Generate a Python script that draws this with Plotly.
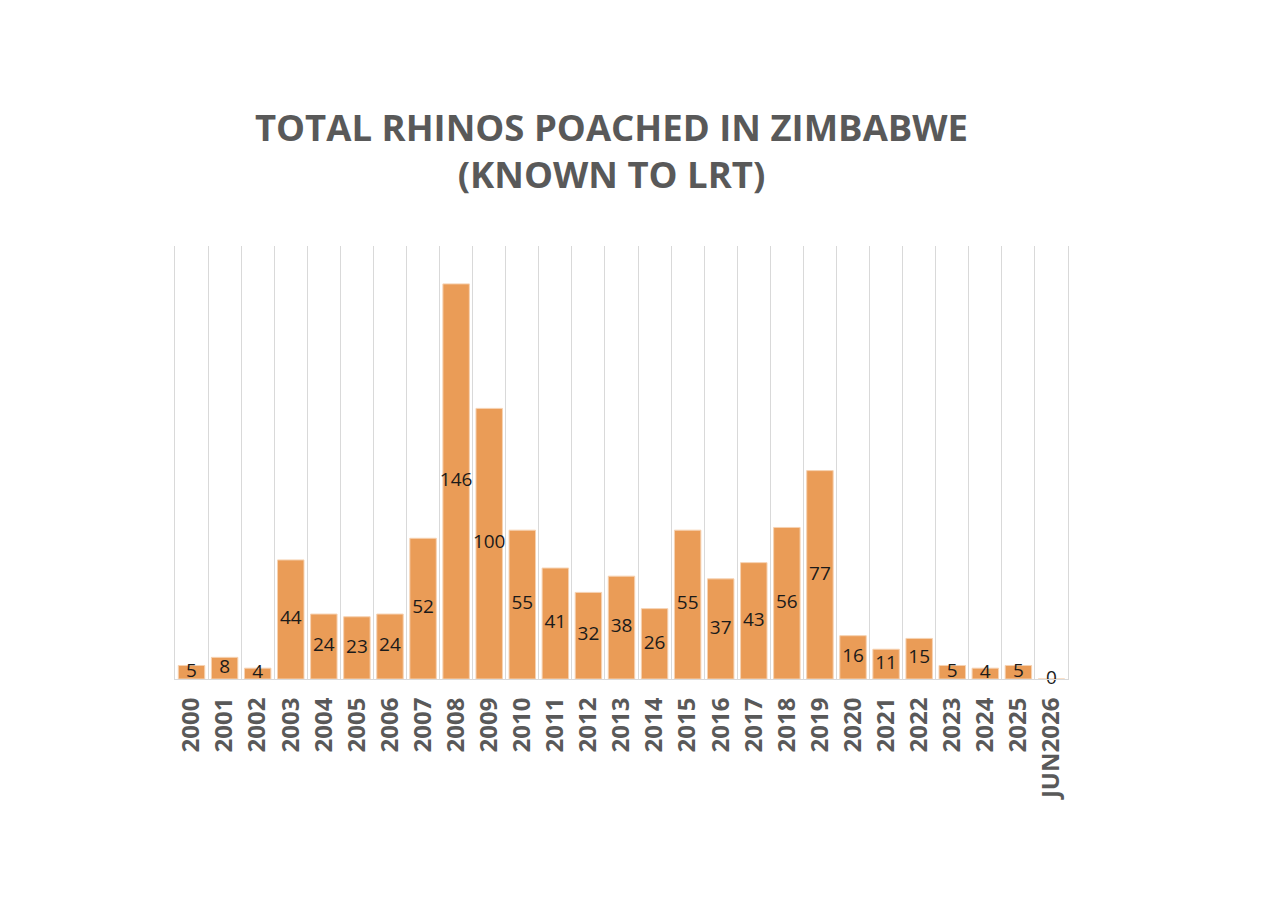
import plotly.graph_objects as go

years = ['2000', '2001', '2002', '2003', '2004', '2005', '2006', '2007', '2008',
         '2009', '2010', '2011', '2012', '2013', '2014', '2015', '2016', '2017',
         '2018', '2019', '2020', '2021', '2022', '2023', '2024', '2025', 'JUN2026']
poached = [5, 8, 4, 44, 24, 23, 24, 52, 146, 100, 55, 41, 32, 38, 26, 55, 37, 43,
           56, 77, 16, 11, 15, 5, 4, 5, 0]

bar_color = '#EA9C57'
grey = '#595959'
line_grey = '#D9D9D9'

# the page adds an 8px body margin, so the figure is a bit smaller than the window
W, H = 1254, 906

fig = go.Figure()

fig.add_trace(go.Bar(
    x=years,
    y=poached,
    marker=dict(color=bar_color, line=dict(color='#F6D2B2', width=1)),
    width=0.8,
    hoverinfo='x+y',
    showlegend=False,
))

# labels centred in each bar, like the Excel "center" label position
fig.add_trace(go.Scatter(
    x=years,
    y=[v / 2 for v in poached],
    mode='text',
    text=[str(v) for v in poached],
    textfont=dict(family='Open Sans, sans-serif', size=19, color='#1A1A1A'),
    cliponaxis=False,
    hoverinfo='skip',
    showlegend=False,
))

fig.update_layout(
    width=W,
    height=H,
    paper_bgcolor='white',
    plot_bgcolor='white',
    margin=dict(l=167, r=194, t=238, b=235),
    title=dict(
        text='TOTAL RHINOS POACHED IN ZIMBABWE<br>(KNOWN TO LRT)',
        x=603.5 / W,
        xanchor='center',
        xref='container',
        y=1 - 133 / H,
        yanchor='middle',
        font=dict(family='Open Sans, sans-serif', size=36.5, color=grey, weight='bold'),
    ),
)

fig.update_xaxes(
    type='category',
    tickson='boundaries',
    showgrid=True,
    gridcolor=line_grey,
    gridwidth=1,
    showline=True,
    linecolor=line_grey,
    linewidth=1,
    ticks='',
    tickangle=-90,
    ticklabelstandoff=8,
    tickfont=dict(family='Open Sans, sans-serif', size=24, color=grey, weight='bold'),
    range=[-0.5, len(years) - 0.5],
)

fig.update_yaxes(
    range=[0, 160],
    showgrid=False,
    showticklabels=False,
    zeroline=False,
    showline=True,
    mirror=True,
    linecolor=line_grey,
    linewidth=1,
    ticks='',
)

fig.write_html('out.html')
